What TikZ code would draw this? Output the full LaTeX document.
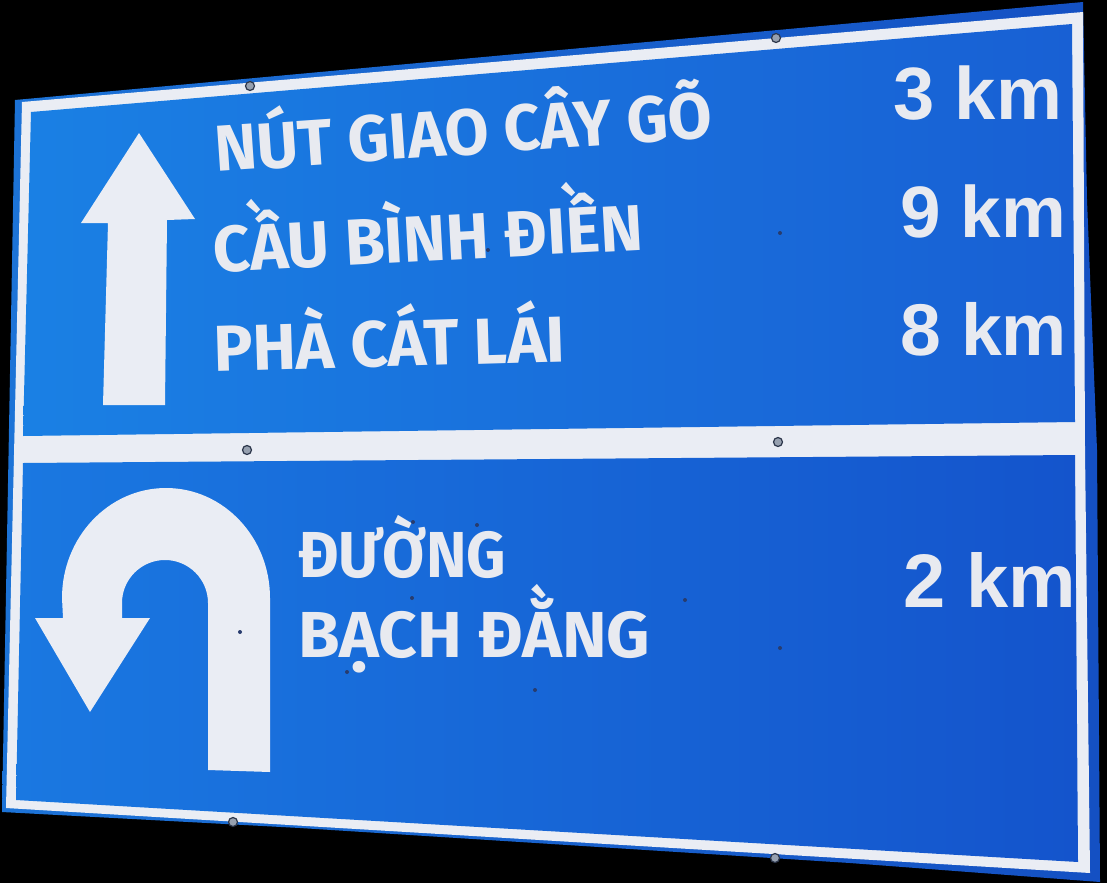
\documentclass[tikz,border=0pt]{standalone}
\usepackage{graphicx}
\usepackage{fontspec}
\setmainfont{Liberation Sans}
\newfontfamily\signfont{Fira Sans}
\newfontfamily\kmfont{Liberation Sans}
\definecolor{plateL}{RGB}{28,115,215}
\definecolor{plateR}{RGB}{20,80,195}
\definecolor{topL}{RGB}{26,128,228}
\definecolor{topR}{RGB}{24,96,212}
\definecolor{botL}{RGB}{26,120,225}
\definecolor{botR}{RGB}{20,84,204}
\definecolor{signwhite}{RGB}{234,237,244}
\definecolor{txtwhite}{RGB}{232,234,240}
\definecolor{boltgray}{RGB}{150,160,175}
\definecolor{boltdark}{RGB}{45,55,75}
\definecolor{dotc}{RGB}{40,60,110}
\tikzset{
  place/.style={anchor=base west, inner sep=0pt, text=txtwhite,
    font=\signfont\bfseries\fontsize{65}{70}\selectfont},
  dist/.style={anchor=base west, inner sep=0pt, text=txtwhite,
    font=\kmfont\bfseries\fontsize{70}{80}\selectfont},
  bolt/.style={circle, fill=boltgray, draw=boltdark, line width=1.2pt,
    minimum size=9pt, inner sep=0pt},
  rivet/.style={circle, fill=dotc, minimum size=4pt, inner sep=0pt},
  arrowshape/.style={fill=signwhite}
}
\begin{document}
\begin{tikzpicture}[x=1pt,y=-1pt]
\useasboundingbox (0,0) rectangle (1107,883);
\fill[black] (0,0) rectangle (1107,883);
% plate
\shade[left color=plateL, right color=plateR]
  (15,100) -- (1083,2) -- (1087,200) -- (1097,450) -- (1100,882)
  -- (850,863) -- (300,828) -- (2,812) -- cycle;
% white border
\fill[signwhite] (22,102) -- (1083,12) -- (1085,450) -- (1090,873)
  -- (6,808) -- cycle;
% panels
\shade[left color=topL, right color=topR]
  (31,112) -- (1072,24) -- (1075,422) -- (23,436) -- cycle;
\shade[left color=botL, right color=botR]
  (23,463) -- (1075,455) -- (1078,862) -- (16,800) -- cycle;
% up arrow
\fill[arrowshape] (139,133) -- (195,219) -- (167,220) -- (165,405)
  -- (103,405) -- (108,223) -- (81,223) -- cycle;
% u-turn arrow
\fill[arrowshape] (270,772) -- (270,598)
  arc[start angle=0, end angle=-180, x radius=104, y radius=110]
  -- (63,618) -- (35,618) -- (90,712) -- (150,618) -- (122,618)
  -- (122,603)
  arc[start angle=180, end angle=360, radius=43]
  -- (208,770) -- cycle;
% place names
\node[place, rotate=3.97] (l1) at (216,172) {\resizebox{499pt}{\height}{NÚT GIAO CÂY GÕ}};
\node[place, rotate=3.1] (l2) at (214,273) {\resizebox{431pt}{\height}{CẦU BÌNH ĐIỀN}};
\node[place, rotate=1.7] (l3) at (214,372) {\resizebox{352pt}{\height}{PHÀ CÁT LÁI}};
\node[place] (l4) at (298,577) {\resizebox{208pt}{\height}{ĐƯỜNG}};
\node[place] (l5) at (298,657) {\resizebox{352pt}{\height}{BẠCH ĐẰNG}};
% distances
\node[dist] (d1) at (893,119) {\resizebox{169pt}{!}{3 km}};
\node[dist] (d2) at (900,237) {\resizebox{166pt}{!}{9 km}};
\node[dist] (d3) at (900,355) {\resizebox{167pt}{!}{8 km}};
\node[dist] (d4) at (903,607) {\resizebox{173pt}{!}{2 km}};
% bolts
\node[bolt] (b1) at (250,86) {};
\node[bolt] (b2) at (776,38) {};
\node[bolt] (b3) at (247,450) {};
\node[bolt] (b4) at (778,442) {};
\node[bolt] (b5) at (233,822) {};
\node[bolt] (b6) at (775,858) {};
% rivet marks
\node[rivet] (r1) at (488,250) {};
\node[rivet] (r2) at (780,233) {};
\node[rivet] (r3) at (413,522) {};
\node[rivet] (r4) at (477,525) {};
\node[rivet] (r5) at (412,598) {};
\node[rivet] (r6) at (347,672) {};
\node[rivet] (r7) at (685,600) {};
\node[rivet] (r8) at (780,648) {};
\node[rivet] (r9) at (535,690) {};
\node[rivet] (r10) at (240,632) {};
\end{tikzpicture}
\end{document}
